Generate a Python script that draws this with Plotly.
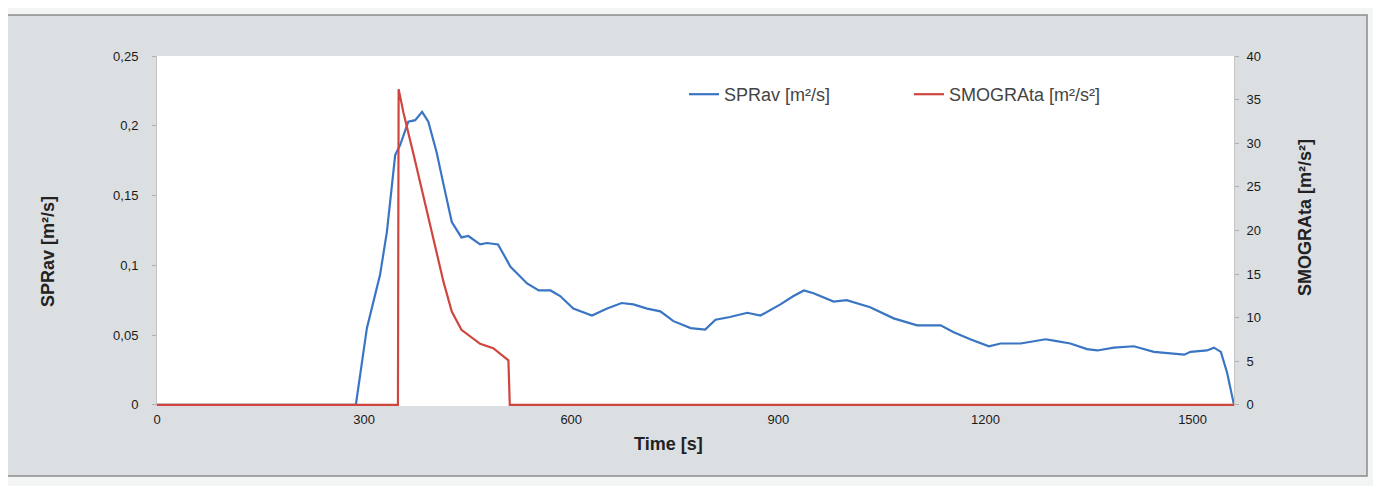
import plotly.graph_objects as go

# SPRav (left axis)
time_spr = [0, 288, 304, 323, 333, 345, 352, 364, 374, 384, 393, 405, 415, 427, 441,
            451, 468, 478, 494, 512, 536, 553, 570, 584, 603, 630, 652, 673, 690, 710,
            729, 748, 773, 794, 809, 830, 855, 874, 903, 922, 937, 951, 980, 999, 1033,
            1067, 1101, 1135, 1154, 1178, 1205, 1222, 1251, 1275, 1287, 1299, 1323, 1347,
            1362, 1386, 1415, 1444, 1468, 1488, 1497, 1521, 1531, 1541, 1550, 1560]
spr = [0, 0, 0.055, 0.093, 0.124, 0.179, 0.186, 0.203, 0.204, 0.210, 0.203, 0.181, 0.158,
       0.131, 0.120, 0.121, 0.115, 0.116, 0.115, 0.099, 0.087, 0.082, 0.082, 0.078, 0.069,
       0.064, 0.069, 0.073, 0.072, 0.069, 0.067, 0.060, 0.055, 0.054, 0.061, 0.063, 0.066,
       0.064, 0.072, 0.078, 0.082, 0.080, 0.074, 0.075, 0.070, 0.062, 0.057, 0.057, 0.052,
       0.047, 0.042, 0.044, 0.044, 0.046, 0.047, 0.046, 0.044, 0.040, 0.039, 0.041, 0.042,
       0.038, 0.037, 0.036, 0.038, 0.039, 0.041, 0.038, 0.023, 0.0]

# SMOGRAta (right axis)
time_smo = [0, 349, 350, 357, 372, 381, 393, 405, 415, 427, 441, 468, 487, 509, 511, 1560]
smo = [0, 0, 36.2, 33.5, 28.6, 25.5, 21.7, 17.5, 14.1, 10.7, 8.6, 7.0, 6.5, 5.1, 0, 0]

x_ticks = [0, 300, 600, 900, 1200, 1500]
y1_ticks = [0, 0.05, 0.1, 0.15, 0.2, 0.25]
y1_labels = ["0", "0,05", "0,1", "0,15", "0,2", "0,25"]
y2_ticks = [0, 5, 10, 15, 20, 25, 30, 35, 40]

FONT = "Liberation Sans, Arial, sans-serif"

fig = go.Figure()

fig.add_trace(
    go.Scatter(
        x=time_spr,
        y=spr,
        mode="lines",
        name="SPRav [m²/s]",
        line=dict(color="#3a75c4", width=2.2),
    )
)

fig.add_trace(
    go.Scatter(
        x=time_smo,
        y=smo,
        mode="lines",
        name="SMOGRAta [m²/s²]",
        line=dict(color="#d0463f", width=2.2),
        yaxis="y2",
    )
)

# page has an 8px body margin; positions below are page pixels
OFF = 8
FIG_W, FIG_H = 1381, 486
L, R, T, B = 157 - OFF, 1234 - OFF, 56 - OFF, 406 - OFF
W, H = R - L, B - T


def px(x):
    return (x - OFF - L) / W


def py(y):
    return (B - (y - OFF)) / H


fig.update_layout(
    width=FIG_W,
    height=FIG_H,
    margin=dict(l=L, r=FIG_W - R, t=T, b=FIG_H - B),
    paper_bgcolor="#f3f4f4",
    plot_bgcolor="white",
    font=dict(family=FONT, color="#222222", size=12),
    showlegend=True,
    legend=dict(
        orientation="h",
        x=px(684),
        y=py(76),
        xanchor="left",
        yanchor="top",
        bgcolor="rgba(0,0,0,0)",
        font=dict(size=18, color="#444444"),
        entrywidth=180,
    ),
    xaxis=dict(
        range=[0, 1560],
        tickvals=x_ticks,
        showgrid=False,
        zeroline=False,
        showline=False,
        ticks="",
        ticklabelstandoff=4,
        tickfont=dict(size=13, color="#1a1a1a"),
    ),
    yaxis=dict(
        # a hair below zero so the zero-level lines are not clipped
        range=[-0.0008, 0.25],
        tickvals=y1_ticks,
        ticktext=y1_labels,
        showgrid=False,
        zeroline=False,
        showline=True,
        linecolor="#c4c4c4",
        ticks="outside",
        ticklen=4,
        tickcolor="#b0b0b0",
        ticklabelstandoff=11,
        tickfont=dict(size=13, color="#1a1a1a"),
        layer="below traces",
    ),
    yaxis2=dict(
        range=[-0.128, 40],
        tickvals=y2_ticks,
        overlaying="y",
        side="right",
        showgrid=False,
        zeroline=False,
        showline=True,
        linecolor="#c4c4c4",
        ticks="outside",
        ticklen=4,
        tickcolor="#b0b0b0",
        ticklabelstandoff=5,
        tickfont=dict(size=13, color="#1a1a1a"),
        layer="below traces",
    ),
    shapes=[
        dict(
            type="rect",
            xref="paper",
            yref="paper",
            x0=px(7),
            x1=px(1367),
            y0=py(476),
            y1=py(15),
            fillcolor="#dcdfe2",
            line=dict(color="#8a8a8a", width=1.5),
            layer="below",
        ),
        # white plot area on top of the grey frame
        dict(
            type="rect",
            xref="paper",
            yref="paper",
            x0=0,
            x1=1,
            y0=0,
            y1=1,
            fillcolor="white",
            line=dict(width=0),
            layer="below",
        ),
    ],
    annotations=[
        dict(
            text="<b>Time [s]</b>",
            xref="paper",
            yref="paper",
            x=px(668),
            y=py(456),
            showarrow=False,
            font=dict(size=18, color="#222222"),
        ),
        dict(
            text="<b>SPRav [m²/s]</b>",
            xref="paper",
            yref="paper",
            x=px(36),
            y=py(252),
            textangle=-90,
            showarrow=False,
            font=dict(size=18, color="#222222"),
        ),
        dict(
            text="<b>SMOGRAta [m²/s²]</b>",
            xref="paper",
            yref="paper",
            x=px(1317),
            y=py(218),
            textangle=-90,
            showarrow=False,
            font=dict(size=18, color="#222222"),
        ),
    ],
)

fig.write_html("out.html")
